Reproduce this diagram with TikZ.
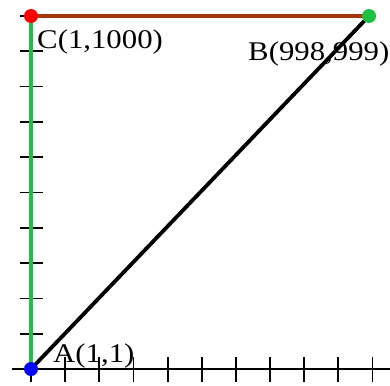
\documentclass[tikz,border=0pt]{standalone}
\usepackage{fontspec}
\setmainfont{Liberation Serif}
\definecolor{brownline}{RGB}{165,55,12}
\definecolor{greenline}{RGB}{30,192,66}
\begin{document}
\begin{tikzpicture}[x=1pt,y=-1pt,
  axis/.style={black,line width=1.8pt},
  tick/.style={black,line width=1.8pt},
  seg/.style={line width=3.8pt},
  dot/.style={circle,inner sep=0pt,minimum size=14pt},
  lbl/.style={font=\fontsize{27}{27}\selectfont,inner sep=0pt,anchor=base west,xscale=1.14}]
\useasboundingbox (0,0) rectangle (390,385);
% axes
\coordinate (xl) at (12,369);
\coordinate (xr) at (392,369);
\draw[axis] (xl) -- (xr);
\foreach \k in {0,...,10} {
  \draw[tick] ({31+34.15*\k},357) -- ({31+34.15*\k},382);
}
\foreach \k in {0,...,9} {
  \draw[tick] (20,{16+35.3*\k}) -- (43,{16+35.3*\k});
}
% points
\coordinate (A) at (31,369);
\coordinate (B) at (369,16);
\coordinate (C) at (31,16);
\draw[seg,greenline] (A) -- (C);
\draw[seg,brownline] (C) -- (B);
\draw[seg,black] (A) -- (B);
\node[dot,fill=red] (Cd) at (C) {};
\node[dot,fill=greenline] (Bd) at (B) {};
\node[dot,fill=blue] (Ad) at (A) {};
% labels
\node[lbl] (Cl) at (37,49) {C(1,1000)};
\node[lbl] (Bl) at (248,61) {B(998,999)};
\node[lbl] (Al) at (53,362) {A(1,1)};
\end{tikzpicture}
\end{document}
